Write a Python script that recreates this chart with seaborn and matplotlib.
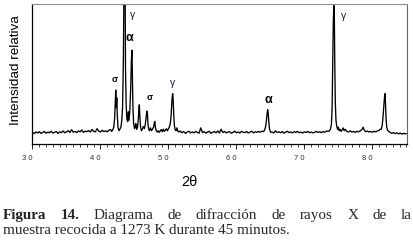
import matplotlib
matplotlib.use("Agg")
import matplotlib.pyplot as plt
import seaborn as sns
import pandas as pd

# =============================================================================
# DATA
# =============================================================================
# background 30 - 41.5
bg1_x = [30.0, 30.25, 30.5, 30.75, 31.0, 31.25, 31.5, 31.75, 32.0, 32.25,
         32.5, 32.75, 33.0, 33.25, 33.5, 33.75, 34.0, 34.25, 34.5, 34.75,
         35.0, 35.25, 35.5, 35.75, 36.0, 36.25, 36.5, 36.75, 37.0, 37.25,
         37.5, 37.75, 38.0, 38.25, 38.5, 38.75, 39.0, 39.25, 39.5, 39.75,
         40.0, 40.25, 40.5, 40.75, 41.0, 41.25, 41.5]
bg1_y = [8.2, 7.4, 8.6, 7.9, 8.8, 7.6, 8.3, 9.0, 7.7, 8.5,
         8.0, 9.1, 7.8, 8.4, 8.9, 7.5, 8.7, 8.1, 9.3, 8.0,
         8.6, 9.5, 8.2, 10.2, 8.4, 9.0, 8.1, 9.4, 8.6, 10.0,
         8.3, 9.2, 8.8, 9.6, 8.5, 10.4, 9.0, 8.7, 11.0, 9.1,
         8.6, 9.8, 8.9, 9.4, 8.7, 9.9, 10.3]

# sigma / gamma / alpha cluster 41.6 - 51.7
cl_x = [41.65, 41.8, 41.95, 42.08, 42.18, 42.25, 42.32, 42.4, 42.48, 42.58,
        42.72, 42.85, 43.0, 43.12, 43.25, 43.37, 43.52, 43.6, 43.68, 43.78,
        43.88, 44.0, 44.1, 44.2, 44.32, 44.45, 44.55, 44.63, 44.7, 44.78,
        44.88, 45.0, 45.1, 45.2, 45.32, 45.45, 45.57, 45.66, 45.72, 45.8,
        45.9, 46.02, 46.15, 46.3, 46.45, 46.6, 46.72, 46.82, 46.9, 46.98,
        47.08, 47.2, 47.35, 47.5, 47.65, 47.8, 47.92, 48.0, 48.08, 48.2,
        48.35, 48.5, 48.65, 48.8, 48.95, 49.1, 49.25, 49.4, 49.55, 49.7,
        49.85, 50.0, 50.12, 50.25, 50.37, 50.47, 50.56, 50.63, 50.7, 50.78,
        50.88, 51.0, 51.12, 51.25, 51.38, 51.5, 51.7]
cl_y = [9.0, 10.0, 12, 18, 30, 38.5, 26, 33, 20, 12,
        9.5, 10.5, 12, 16, 26, 60, 150, 150, 55, 28,
        18, 16, 23, 17, 24, 40, 60, 67, 48, 26,
        15, 11, 12, 14.5, 10.5, 12, 18, 25, 28, 19,
        12, 9.5, 10.5, 12.5, 11, 14, 19, 23.5, 22, 15,
        11, 9.5, 11.5, 9.5, 10.5, 12, 15, 16, 12, 9.5,
        8.5, 9.5, 8.3, 9.4, 10.3, 8.8, 10.6, 9.0, 9.8, 10.9,
        9.4, 10.8, 12, 14, 19, 27, 34, 36, 31, 21,
        13, 10, 9.5, 11.5, 9.2, 8.6, 9.3]

# background 52 - 63.75
bg2_x = [52.0, 52.25, 52.5, 52.75, 53.0, 53.25, 53.5, 53.75, 54.0, 54.25,
         54.5, 54.75, 55.0, 55.25, 55.5, 55.75, 56.0, 56.25, 56.5, 56.75,
         57.0, 57.25, 57.5, 57.75, 58.0, 58.25, 58.5, 58.75, 59.0, 59.25,
         59.5, 59.75, 60.0, 60.25, 60.5, 60.75, 61.0, 61.25, 61.5, 61.75,
         62.0, 62.25, 62.5, 62.75, 63.0, 63.25, 63.5, 63.75]
bg2_y = [8.1, 8.9, 7.6, 8.4, 9.2, 7.9, 8.6, 8.0, 9.0, 8.3,
         7.7, 11.5, 8.2, 8.8, 7.8, 8.5, 9.1, 7.6, 8.4, 8.9,
         8.0, 9.3, 7.8, 10.6, 8.2, 9.0, 7.9, 8.5, 8.8, 7.7,
         8.3, 9.2, 8.0, 8.6, 7.8, 9.0, 8.4, 8.1, 8.9, 7.9,
         8.5, 9.1, 8.0, 8.7, 8.3, 9.0, 8.4, 9.2]

# alpha peak ~64.7
a2_x = [64.0, 64.15, 64.3, 64.42, 64.52, 64.6, 64.68, 64.76, 64.86, 64.98, 65.1]
a2_y = [8.8, 10, 12.5, 17, 22, 24.5, 22, 16, 11, 9, 8.2]

# background 65.25 - 73.5
bg3_x = [65.25, 65.5, 65.75, 66.0, 66.25, 66.5, 66.75, 67.0, 67.25, 67.5,
         67.75, 68.0, 68.25, 68.5, 68.75, 69.0, 69.25, 69.5, 69.75, 70.0,
         70.25, 70.5, 70.75, 71.0, 71.25, 71.5, 71.75, 72.0, 72.25, 72.5,
         72.75, 73.0, 73.25, 73.5]
bg3_y = [8.6, 7.9, 9.4, 8.2, 8.7, 8.0, 8.9, 7.7, 8.5, 9.1,
         8.1, 8.6, 7.9, 8.8, 8.3, 9.0, 8.0, 8.5, 7.8, 8.7,
         8.2, 9.0, 8.0, 8.6, 7.9, 8.4, 9.0, 8.2, 8.8, 8.1,
         8.9, 8.4, 9.3, 9.0]

# gamma peak ~74.35, small bumps, peak ~81.9, tail to 85
hi_x = [73.7, 73.85, 73.98, 74.08, 74.16, 74.25, 74.33, 74.4, 74.47, 74.55,
        74.65, 74.75, 74.88, 75.0, 75.12, 75.25, 75.4, 75.55, 75.7, 75.85,
        76.0, 76.25, 76.5, 76.75, 77.0, 77.25, 77.5, 77.75, 78.0, 78.25,
        78.5, 78.65, 78.8, 79.0, 79.25, 79.5, 79.75, 80.0, 80.25, 80.5,
        80.75, 81.0, 81.15, 81.3, 81.45, 81.58, 81.68, 81.78, 81.86, 81.94,
        82.02, 82.12, 82.25, 82.4, 82.6, 82.85, 83.1, 83.35, 83.6, 83.85,
        84.1, 84.35, 84.6, 84.85, 85.0]
hi_y = [9.5, 11, 14, 25, 55, 85, 99, 97, 60, 30,
        17, 13, 10.5, 12, 9.5, 10.5, 9, 10, 11.5, 9.5,
        10.5, 9.0, 8.6, 9.4, 8.5, 9.0, 8.3, 9.1, 8.7, 9.5,
        10.5, 12, 10, 8.8, 9.2, 8.6, 9.0, 8.4, 9.1, 8.7,
        9.3, 9.8, 10.5, 10.5, 13, 20, 27, 33, 36, 29,
        18, 12, 9.8, 9, 8.3, 7.6, 8.2, 7.4, 8.0, 7.2,
        7.8, 7.1, 7.6, 7.2, 7.5]

# phase labels
phase_labels = ["σ", "γ", "α", "σ", "γ", "α", "γ"]
label_x = [42.04, 44.74, 44.25, 47.19, 50.57, 64.65, 75.73]
label_y = [46.4, 92.1, 75.5, 33.4, 43.8, 31.4, 91.6]

xtick_values = [30, 40, 50, 60, 70, 80]
xtick_labels = ["3 0", "4 0", "5 0", "6 0", "7 0", "8 0"]

caption_line1 = ["Figura", "14.", "Diagrama", "de", "difracción", "de",
                 "rayos", "X", "de", "la"]
caption_line2 = "muestra recocida a 1273 K durante 45 minutos."

df = pd.DataFrame({
    "two_theta": bg1_x + cl_x + bg2_x + a2_x + bg3_x + hi_x,
    "intensity": bg1_y + cl_y + bg2_y + a2_y + bg3_y + hi_y,
})

# =============================================================================
# PLOT
# =============================================================================
sns.set_style("white")
plt.rcParams["font.family"] = ["Liberation Sans", "DejaVu Sans"]

W, H = 414, 246
fig = plt.figure(figsize=(W / 100, H / 100), dpi=100)
ax = fig.add_axes([32.5 / W, 1 - 144 / H, 374.5 / W, 140 / H])

sns.lineplot(data=df, x="two_theta", y="intensity", ax=ax, color="black",
             linewidth=0.95, estimator=None, sort=False)

ax.set_xlim(30, 85.1)
ax.set_ylim(0, 100)
ax.set_yticks([])
ax.set_xticks(xtick_values)
ax.set_xticklabels(xtick_labels, fontsize=5.5, color="#333333", ha="right")
ax.set_xticks(range(31, 86), minor=True)
ax.tick_params(axis="x", which="major", direction="out", length=3.6,
               width=0.7, pad=4.0, bottom=True)
ax.tick_params(axis="x", which="minor", direction="out", length=2.4,
               width=0.6, bottom=True)

for side in ["left", "bottom"]:
    ax.spines[side].set_color("black")
    ax.spines[side].set_linewidth(0.9)
ax.spines["top"].set_color("#8c8c8c")
ax.spines["top"].set_linewidth(0.8)
ax.spines["right"].set_color("#666666")
ax.spines["right"].set_linewidth(0.8)

ax.set_ylabel("Intensidad relativa", fontsize=9.7, color="black")
ax.yaxis.set_label_coords(-0.029, 0.529)
ax.set_xlabel("2θ", fontsize=10.5, color="black", va="center")
ax.xaxis.set_label_coords(0.418, -0.271)

# phase labels
for lab, lx, ly in zip(phase_labels, label_x, label_y):
    if lab == "α":
        ax.text(lx, ly, lab, fontsize=9, fontweight="bold", ha="center",
                va="center", color="black")
    elif lab == "σ":
        ax.text(lx, ly, lab, fontsize=6.5, fontweight="bold", ha="center",
                va="center", color="black")
    else:
        ax.text(lx, ly, lab, fontsize=7.5, ha="center", va="center",
                color="#1a1a2a")

# caption, first line justified
serif = ["Liberation Serif", "DejaVu Serif"]
cap_size = 10.9
left_px, right_px = 2.7, 411.7
base1, base2 = 219.3, 234.3
renderer = fig.canvas.get_renderer()
words = []
for i, w in enumerate(caption_line1):
    t = fig.text(0, 1 - base1 / H, w, family=serif, fontsize=cap_size,
                 fontweight="bold" if i < 2 else "normal",
                 va="baseline", ha="left")
    words.append(t)
widths = [t.get_window_extent(renderer=renderer).width for t in words]
gap = (right_px - left_px - sum(widths)) / (len(words) - 1)
xpos = left_px
for t, wd in zip(words, widths):
    t.set_x(xpos / W)
    xpos += wd + gap

fig.text(left_px / W, 1 - base2 / H, caption_line2, family=serif,
         fontsize=cap_size, va="baseline", ha="left")

plt.savefig("out.png", dpi=100)
